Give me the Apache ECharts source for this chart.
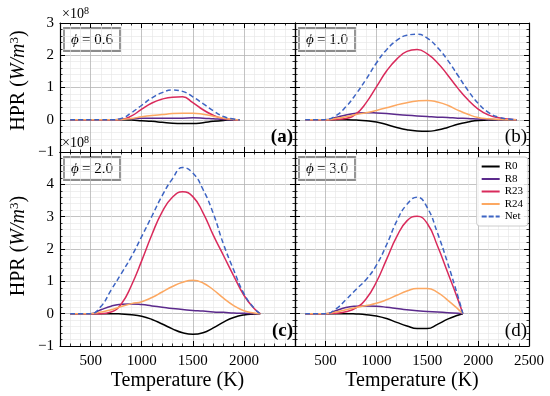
<!DOCTYPE html>
<html><head><meta charset="utf-8">
<script src="https://cdn.jsdelivr.net/npm/echarts@6/dist/echarts.min.js"></script>
<style>html,body{margin:0;padding:0;background:#fff}#c{width:550px;height:396px}</style>
</head><body><div id="c"></div>
<script>
// ---------- data (values in units of 1e8 W/m^3) ----------
const tempA = [300,400,500,600,700,800,900,1000,1100,1200,1300,1400,1500,1600,1700,1800,1900,1960];
const a_R0  = [0,0,0,0,0,0,-0.01,-0.03,-0.05,-0.08,-0.11,-0.12,-0.12,-0.09,-0.05,-0.02,0,0];
const a_R8  = [0,0,0,0,0,0.01,0.03,0.05,0.05,0.05,0.05,0.05,0.06,0.05,0.03,0.01,0,0];
const a_R23 = [0,0,0,0,0,0.01,0.12,0.33,0.52,0.64,0.70,0.71,0.53,0.31,0.14,0.04,0.01,0];
const a_R24 = [0,0,0,0,0,0.01,0.04,0.09,0.13,0.16,0.19,0.20,0.20,0.17,0.11,0.05,0.01,0];
const a_Net = [0,0,0,0,0,0.04,0.22,0.45,0.68,0.84,0.92,0.88,0.71,0.50,0.28,0.10,0.02,0];

const tempB = [300,400,500,600,700,800,900,1000,1100,1200,1300,1400,1500,1600,1700,1800,1900,2000,2100,2200,2300,2380];
const b_R0  = [0,0,0,0,0,-0.01,-0.03,-0.07,-0.15,-0.24,-0.31,-0.35,-0.36,-0.32,-0.24,-0.14,-0.07,-0.02,-0.01,0,0,0];
const b_R8  = [0,0,0,0.07,0.15,0.20,0.22,0.21,0.19,0.16,0.14,0.12,0.10,0.08,0.07,0.05,0.04,0.02,0.01,0,0,0];
const b_R23 = [0,0,0,0.01,0.04,0.18,0.53,1.02,1.51,1.88,2.12,2.18,2.04,1.77,1.39,0.98,0.62,0.33,0.15,0.06,0.02,0];
const b_R24 = [0,0,0,0.04,0.09,0.16,0.22,0.29,0.37,0.46,0.53,0.58,0.60,0.55,0.45,0.30,0.17,0.07,0.03,0.01,0,0];
const b_Net = [0,0,0.01,0.12,0.40,0.80,1.26,1.76,2.17,2.46,2.62,2.65,2.53,2.24,1.85,1.38,0.91,0.51,0.23,0.08,0.02,0];

const tempC = [300,400,500,600,700,800,900,1000,1100,1200,1300,1400,1500,1600,1700,1800,1900,2000,2100,2160];
const c_R0  = [0,0,0,0,0,-0.01,-0.03,-0.08,-0.18,-0.32,-0.47,-0.59,-0.64,-0.59,-0.44,-0.26,-0.12,-0.04,-0.01,0];
const c_R8  = [0,0,0,0.12,0.23,0.29,0.30,0.28,0.24,0.20,0.16,0.13,0.10,0.08,0.05,0.04,0.02,0.01,0,0];
const c_R23 = [0,0,0,0,0.05,0.30,0.88,1.64,2.45,3.15,3.60,3.77,3.62,3.12,2.43,1.80,1.17,0.57,0.16,0];
const c_R24 = [0,0,0,0.05,0.12,0.22,0.31,0.37,0.50,0.67,0.84,0.97,1.03,0.95,0.74,0.48,0.25,0.09,0.02,0];
const c_Net = [0,0,0,0.22,0.73,1.24,1.77,2.39,3.02,3.65,4.17,4.52,4.35,3.84,3.10,2.15,1.35,0.62,0.17,0];

const tempD = [300,400,500,600,700,800,900,1000,1100,1200,1300,1400,1500,1600,1700,1800,1850];
const d_R0  = [0,0,0,0,0,-0.01,-0.03,-0.07,-0.15,-0.27,-0.38,-0.46,-0.46,-0.33,-0.17,-0.05,0];
const d_R8  = [0,0,0,0.09,0.19,0.23,0.24,0.23,0.20,0.16,0.12,0.09,0.07,0.05,0.03,0.01,0];
const d_R23 = [0,0,0,0.01,0.06,0.18,0.46,0.98,1.68,2.38,2.87,3.01,2.79,2.10,1.28,0.45,0];
const d_R24 = [0,0,0,0.05,0.12,0.19,0.25,0.32,0.43,0.57,0.70,0.78,0.78,0.66,0.42,0.15,0];
const d_Net = [0,0,0,0.14,0.43,0.75,1.06,1.50,2.13,2.86,3.38,3.60,3.28,2.50,1.57,0.55,0];

const seriesNames = ['R0','R8','R23','R24','Net'];
const phiLabels = ['0.6','1.0','2.0','3.0'];
const panelTags = ['a','b','c','d'];
const xRange = [200, 2500];
const yRanges = [[-1,3],[-1,3],[-1,5],[-1,5]];

// ---------- styles / layout ----------
const FONT = '"Liberation Serif", "DejaVu Serif", serif';
const colors = {R0:'#000000', R8:'#5b2a8c', R23:'#d92a5b', R24:'#fca862', Net:'#3d64c3'};
const grids = [
  {left:60,  top:23,  width:235, height:129},
  {left:295, top:23,  width:234, height:129},
  {left:60,  top:152, width:235, height:194},
  {left:295, top:152, width:234, height:194}
];
const panelData = [
  {T: tempA, v: {R0:a_R0, R8:a_R8, R23:a_R23, R24:a_R24, Net:a_Net}},
  {T: tempB, v: {R0:b_R0, R8:b_R8, R23:b_R23, R24:b_R24, Net:b_Net}},
  {T: tempC, v: {R0:c_R0, R8:c_R8, R23:c_R23, R24:c_R24, Net:c_Net}},
  {T: tempD, v: {R0:d_R0, R8:d_R8, R23:d_R23, R24:d_R24, Net:d_Net}}
];

const fmtNum = v => (v < 0 ? '\u2212' + Math.abs(v) : String(v));
const xAxes = [], yAxes = [], series = [], graphics = [];
const majorGrid = {show:true, lineStyle:{color:'#b4b4b4', width:0.8}};
const minorGrid = {show:true, lineStyle:{color:'#e4e4e4', width:0.6}};
const frameLine = {show:true, onZero:false, lineStyle:{color:'#000', width:1.2}};
const tickMajor = {show:true, inside:true, length:5, lineStyle:{color:'#000', width:1}};
const tickMinor = {show:true, inside:true, splitNumber:5, length:2.5, lineStyle:{color:'#000', width:0.8}};

grids.forEach((g, i) => {
  const isBottom = i >= 2, isLeft = i % 2 === 0;
  xAxes.push({
    type:'value', gridIndex:i, position:'bottom', min:xRange[0], max:xRange[1], splitNumber:5,
    axisLine:frameLine, axisTick:tickMajor, minorTick:tickMinor,
    splitLine:majorGrid, minorSplitLine:minorGrid,
    axisLabel:{show:isBottom, showMinLabel:false, showMaxLabel:!isLeft, margin:8,
      fontFamily:FONT, fontSize:15, color:'#000', formatter: v => String(v)},
    name: isBottom ? 'Temperature (K)' : '', nameLocation:'middle', nameGap:25,
    nameTextStyle:{fontFamily:FONT, fontSize:20, color:'#000'}
  });
  xAxes.push({
    type:'value', gridIndex:i, position:'top', min:xRange[0], max:xRange[1], splitNumber:5,
    axisLine:frameLine, axisTick:tickMajor, minorTick:tickMinor,
    splitLine:{show:false}, axisLabel:{show:false}
  });
  yAxes.push({
    type:'value', gridIndex:i, position:'left', min:yRanges[i][0], max:yRanges[i][1], interval:1,
    axisLine:frameLine, axisTick:tickMajor, minorTick:tickMinor,
    splitLine:majorGrid, minorSplitLine:minorGrid,
    axisLabel:{show:isLeft, showMinLabel:true, showMaxLabel:!isBottom, margin:6,
      fontFamily:FONT, fontSize:15, color:'#000', formatter:fmtNum}
  });
  yAxes.push({
    type:'value', gridIndex:i, position:'right', min:yRanges[i][0], max:yRanges[i][1], interval:1,
    axisLine:frameLine, axisTick:tickMajor, minorTick:tickMinor,
    splitLine:{show:false}, axisLabel:{show:false}
  });

  const pd = panelData[i];
  seriesNames.forEach(name => {
    series.push({
      type:'line', name, xAxisIndex:2*i, yAxisIndex:2*i, symbol:'none', smooth:0.5,
      lineStyle:{color:colors[name], width:1.5, type: name === 'Net' ? [5,3] : 'solid'},
      itemStyle:{color:colors[name]},
      data: pd.T.map((t, k) => [t, pd.v[name][k]]),
      z: 3
    });
  });

  graphics.push({
    type:'group', x:g.left + 4, y:g.top + 5, z:50,
    children:[
      {type:'rect', shape:{x:0, y:0, width:56, height:23},
       style:{fill:'#fff', stroke:'#8c8c8c', lineWidth:1.8}},
      {type:'text', x:28, y:12,
       style:{text:'{i|\u03d5} {n|= ' + phiLabels[i] + '}', align:'center', verticalAlign:'middle',
         rich:{i:{fontFamily:FONT, fontStyle:'italic', fontSize:15, fill:'#000'},
               n:{fontFamily:FONT, fontSize:15, fill:'#000'}}}}
    ]
  });
  graphics.push({
    type:'text', x:g.left + g.width - 2, y:g.top + g.height - 5, z:50,
    style:{text:'(' + panelTags[i] + ')', align:'right', verticalAlign:'bottom',
      fontFamily:FONT, fontSize:19, fontWeight: isLeft ? 'bold' : 'normal', fill:'#000'}
  });
  if (isLeft) {
    graphics.push({
      type:'text', x:g.left + 2, y:g.top - 1, z:50,
      style:{text:'\u00d710{s|8}', align:'left', verticalAlign:'bottom',
        fontFamily:FONT, fontSize:14, fill:'#000',
        rich:{s:{fontFamily:FONT, fontSize:10, verticalAlign:'top', padding:[0,0,6,0]}}}
    });
    graphics.push({
      type:'text', x:19, y:g.top + g.height/2 - (isBottom ? 3 : 7), rotation:Math.PI/2, z:50,
      style:{text:'HPR ({i|W/m}{s|3})', align:'center', verticalAlign:'middle',
        fontFamily:FONT, fontSize:20, fill:'#000',
        rich:{i:{fontFamily:FONT, fontStyle:'italic', fontSize:20},
              s:{fontFamily:FONT, fontSize:13, verticalAlign:'top', padding:[0,0,9,0]}}}
    });
  }
});

const dashIcon = 'path://M0,0h5v2h-5z M7,0h5v2h-5z M14,0h4v2h-4z';
const chart = echarts.init(document.getElementById('c'), null, {renderer:'canvas'});
chart.setOption({
  animation:false,
  backgroundColor:'#fff',
  grid: grids.map(g => Object.assign({containLabel:false}, g)),
  xAxis: xAxes,
  yAxis: yAxes,
  series,
  legend:{
    data: seriesNames.map(n => ({name:n, icon: n === 'Net' ? dashIcon : 'rect'})),
    orient:'vertical', right:22, top:157, itemWidth:18, itemHeight:2, itemGap:1.5,
    padding:[4,5,4,5], backgroundColor:'rgba(255,255,255,0.85)', borderColor:'#cccccc', borderWidth:1,
    borderRadius:3, textStyle:{fontFamily:FONT, fontSize:11, color:'#000'}, selectedMode:false, z:60
  },
  graphic: graphics
});
</script></body></html>
